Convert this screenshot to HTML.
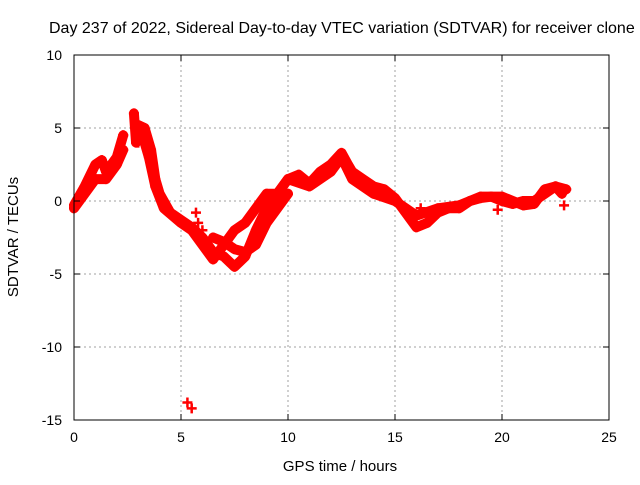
<!DOCTYPE html>
<html><head><meta charset="utf-8"><style>
body{margin:0;background:#fff}
svg text{font-family:"Liberation Sans",sans-serif;font-size:14px;fill:#000}
</style></head><body>
<svg id="chart" width="640" height="480" xmlns="http://www.w3.org/2000/svg">
<text x="49" y="33" style="font-size:16px">Day 237 of 2022, Sidereal Day-to-day VTEC variation (SDTVAR) for receiver clone</text>
<g id="grid"></g>
<g id="marks"></g>
<rect x="74" y="55" width="535" height="365" fill="none" stroke="#000"/>
<g id="ticks"></g>
<text x="340" y="471" text-anchor="middle" style="font-size:15px">GPS time / hours</text>
<text transform="translate(18,237) rotate(-90)" text-anchor="middle" style="font-size:15px">SDTVAR / TECUs</text>
</svg>
<script>
const xTicks=[0,5,10,15,20,25];
const yTicks=[10,5,0,-5,-10,-15];
const trackA=[[0,-0.3],[0.5,1],[1,2.5],[1.3,2.8],[1.5,2],[2,3],[2.3,4.5]];
const trackB=[[0,-0.5],[0.5,0.5],[1,1.5],[1.5,1.5],[2,2.5],[2.3,3.5]];
const trackC=[[2.8,6],[2.9,4],[3,5.2],[3.3,5],[3.6,3.5],[3.8,1.5],[4,0.5],[4.5,-0.8],[5,-1.3],[5.5,-1.8],[6,-2.5],[6.5,-3.5],[7,-3.8],[7.5,-4.5],[8,-3.8],[8.5,-2],[9,-0.5],[9.5,0.5],[10,1.5],[10.5,1.8],[11,1.2],[11.5,2],[12,2.5],[12.5,3.3],[12.8,2.5],[13,2],[13.5,1.5],[14,1],[14.5,0.8],[15,0.2],[15.5,-0.8],[16,-1.8],[16.5,-1.5],[17,-0.8],[17.5,-0.5],[18,-0.5],[18.5,0],[19,0.2],[19.5,0.3],[20,0],[20.5,-0.2],[21,0],[21.5,0],[22,0.5],[22.5,1],[23,0.8]];
const trackD=[[3.2,4.5],[3.5,3],[3.8,1],[4.2,-0.5],[5,-1.5],[5.5,-2],[6,-3],[6.5,-4],[7,-3],[7.5,-2],[8,-1.5],[8.5,-0.5],[9,0.5],[9.5,0.5],[10,1.5],[11,1],[12,2],[12.5,3],[13,1.5],[14,0.5],[15,0],[15.5,-0.5],[16,-1],[17,-0.5],[18,-0.3],[19,0.3],[20,0.3],[21,-0.3],[21.5,-0.2],[22,0.8],[22.5,1],[22.8,0.5]];
const trackE=[[6.5,-2.5],[7,-2.8],[7.5,-3.3],[8,-3.5],[8.5,-3],[9,-1.5],[9.5,-0.5],[10,0.5]];
const outliers=[[5.3,-13.8],[5.5,-14.2],[5.7,-0.8],[5.8,-1.5],[22.9,-0.3],[3.0,4.0],[6.0,-2.0],[16.2,-0.5],[19.8,-0.6]];
const X=v=>74+v*21.4, Y=v=>201-v*14.6;
const NS="http://www.w3.org/2000/svg";
const grid=document.getElementById('grid'),ticks=document.getElementById('ticks'),marks=document.getElementById('marks');
function mk(t,a,p){const e=document.createElementNS(NS,t);for(const k in a)e.setAttribute(k,a[k]);p.appendChild(e);return e;}
xTicks.forEach(v=>{
 if(v>0&&v<25){const g=mk('line',{x1:X(v),x2:X(v),y1:55,y2:420,stroke:'#a0a0a0','stroke-dasharray':'2,3'},grid);
 
 }
 mk('line',{x1:X(v),x2:X(v),y1:420,y2:414,stroke:'#000'},ticks);
 mk('line',{x1:X(v),x2:X(v),y1:55,y2:61,stroke:'#000'},ticks);
 const t=mk('text',{x:X(v),y:442,'text-anchor':'middle'},ticks);t.textContent=v;
 
 
});
yTicks.forEach(v=>{
 if(v<10&&v>-15){const g=mk('line',{x1:74,x2:609,y1:Y(v),y2:Y(v),stroke:'#a0a0a0','stroke-dasharray':'2,3'},grid);
 
 }
 mk('line',{x1:74,x2:80,y1:Y(v),y2:Y(v),stroke:'#000'},ticks);
 mk('line',{x1:609,x2:603,y1:Y(v),y2:Y(v),stroke:'#000'},ticks);
 const t=mk('text',{x:62,y:Y(v)+5,'text-anchor':'end'},ticks);t.textContent=v;
 
 
});
function plus(p){const d=`M${X(p[0])-5},${Y(p[1])}h10M${X(p[0])},${Y(p[1])-5}v10`;
 const e=mk('path',{d:d,stroke:'#f00','stroke-width':2.5},marks);
 
 }
[trackA,trackB,trackC,trackD,trackE].forEach(tr=>{
 const l=mk('polyline',{points:tr.map(p=>X(p[0])+','+Y(p[1])).join(' '),fill:'none',stroke:'#f00','stroke-width':10,'stroke-linejoin':'round','stroke-linecap':'round'},marks);
 
 
 tr.forEach(plus);
});
outliers.forEach(plus);
</script>
</body></html>
